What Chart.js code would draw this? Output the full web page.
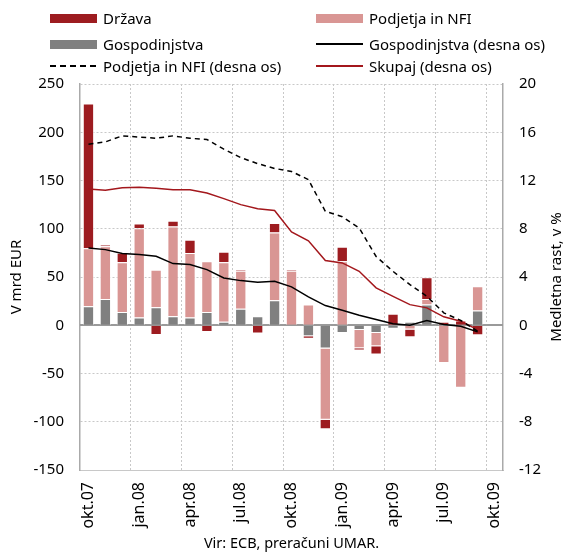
<!DOCTYPE html>
<html>
<head>
<meta charset="utf-8">
<script src="https://cdn.jsdelivr.net/npm/chart.js@4.4.0/dist/chart.umd.min.js"></script>
<style>
  body { margin: 0; background: #fff; }
  #wrap { position: relative; width: 571px; height: 553px; }
  #legend { position: absolute; left: 0; top: 0; width: 571px; height: 80px; font: 15px "Noto Sans", sans-serif; color: #000; }
  .item { position: absolute; display: flex; align-items: center; white-space: nowrap; height: 20px; }
  .sw { width: 47px; margin-right: 6px; }
</style>
</head>
<body>
<div id="wrap">
  <canvas id="c" width="571" height="553"></canvas>
  <div id="legend"></div>
</div>
<script>
const months = ['okt.07','nov.07','dec.07','jan.08','feb.08','mar.08','apr.08','maj.08','jun.08','jul.08','avg.08','sep.08',
                'okt.08','nov.08','dec.08','jan.09','feb.09','mar.09','apr.09','maj.09','jun.09','jul.09','avg.09','sep.09','okt.09'];

// mesečni tokovi, mrd EUR (leva os)
const drzava        = [150, 1.5, 10, 5, -10, 6, 13.5, -7, 11, 1, -8.5, 10, 1, -2.7, -9.7, 15, -2.4, -8.6, 11.5, -8, 22.4, 3, 5, -10.3, null];
const podjetja      = [60, 54.5, 51.4, 92.4, 39, 93, 67, 52.5, 61.7, 39.6, 0, 70, 56.6, 21.4, -74, 66.3, -18.8, -13.7, 0.5, -4.5, 5.9, -39, -64.8, 25.2, null];
const gospodinjstva = [19.7, 27.3, 13.8, 8, 18.6, 9.3, 8, 13.8, 3.5, 17, 9.3, 26, 0, -11.4, -24, -8, -5, -8, -3.7, 3.5, 21.4, 0.5, 0, 15.2, null];

// medletna rast, % (desna os)
const rastGosp    = [6.41, 6.27, 5.94, 5.86, 5.72, 5.11, 5.03, 4.61, 3.92, 3.7, 3.56, 3.64, 3.18, 2.35, 1.63, 1.24, 0.83, 0.47, 0.12, 0.0, 0.39, 0.06, -0.08, -0.55, null];
const rastPodj    = [15.0, 15.2, 15.7, 15.6, 15.5, 15.7, 15.5, 15.4, 14.6, 13.9, 13.4, 13.0, 12.75, 12.07, 9.44, 9.0, 8.07, 5.7, 4.47, 3.37, 2.4, 1.03, 0.4, -0.5, null];
const rastSkupaj  = [11.3, 11.2, 11.4, 11.45, 11.35, 11.24, 11.24, 10.96, 10.5, 10.0, 9.66, 9.52, 7.73, 7.0, 5.36, 5.17, 4.47, 3.1, 2.4, 1.71, 1.44, 0.7, 0.33, -0.36, null];

const FONT = '"Noto Sans", sans-serif';
const GRID = '#c8c8c8';

const zeroLine = {
  id: 'zeroLine',
  beforeDatasetsDraw(chart) {
    const { ctx, chartArea: a, scales: { y } } = chart;
    const py = Math.round(y.getPixelForValue(0));
    ctx.save();
    ctx.strokeStyle = '#9a9a9a';
    ctx.lineWidth = 2;
    ctx.beginPath();
    ctx.moveTo(a.left, py);
    ctx.lineTo(a.right, py);
    ctx.stroke();
    ctx.restore();
  }
};

const rightTitle = {
  id: 'rightTitle',
  afterDraw(chart) {
    const { ctx, chartArea: a } = chart;
    ctx.save();
    ctx.translate(557, (a.top + a.bottom) / 2);
    ctx.rotate(-Math.PI / 2);
    ctx.font = '15px ' + FONT;
    ctx.fillStyle = '#000';
    ctx.textAlign = 'center';
    ctx.textBaseline = 'middle';
    ctx.fillText('Medletna rast, v %', 0, 0);
    ctx.restore();
  }
};

const barBorder = 'rgba(255,255,255,0.7)';

const chart = new Chart(document.getElementById('c'), {
  type: 'bar',
  data: {
    labels: months,
    datasets: [
      { type: 'line', label: 'Gospodinjstva (desna os)', data: rastGosp, yAxisID: 'y2', borderColor: '#000', borderWidth: 1.5, pointRadius: 0, tension: 0, order: 0 },
      { type: 'line', label: 'Podjetja in NFI (desna os)', data: rastPodj, yAxisID: 'y2', borderColor: '#000', borderWidth: 1.5, borderDash: [5, 4], pointRadius: 0, tension: 0, order: 0 },
      { type: 'line', label: 'Skupaj (desna os)', data: rastSkupaj, yAxisID: 'y2', borderColor: '#a3171c', borderWidth: 1.5, pointRadius: 0, tension: 0, order: 0 },
      { label: 'Gospodinjstva', data: gospodinjstva, backgroundColor: '#808080', borderColor: barBorder, borderWidth: 1, stack: 's', order: 1 },
      { label: 'Podjetja in NFI', data: podjetja, backgroundColor: '#d99694', borderColor: barBorder, borderWidth: 1, stack: 's', order: 1 },
      { label: 'Država', data: drzava, backgroundColor: '#9d1c20', borderColor: barBorder, borderWidth: 1, stack: 's', order: 1 }
    ]
  },
  options: {
    responsive: false,
    animation: false,
    layout: { padding: { top: 84, left: 0, right: 0, bottom: 0 } },
    datasets: { bar: { barPercentage: 0.67, categoryPercentage: 1 } },
    plugins: { legend: { display: false }, tooltip: { enabled: false } },
    scales: {
      x: {
        stacked: true,
        afterFit(s) { s.height = 83; },
        grid: {
          offset: true,
          drawTicks: false,
          color: c => (c.index % 3 === 0 && c.index > 0) ? GRID : 'rgba(0,0,0,0)'
        },
        border: { color: GRID, dash: [2, 2] },
        ticks: {
          autoSkip: false, maxRotation: 90, minRotation: 90, padding: 12,
          color: '#000', font: { family: FONT, size: 16 },
          callback: (v, i) => i % 3 === 0 ? months[i] : ''
        },
        title: { display: true, text: 'Vir: ECB, preračuni UMAR.', color: '#000', font: { family: FONT, size: 14.5 }, padding: { top: 0, bottom: 0 } }
      },
      y: {
        stacked: true,
        position: 'left',
        min: -150, max: 250,
        afterFit(s) { s.width = 80; },
        grid: { drawTicks: false, color: GRID },
        border: { color: '#aaa', width: 1.5, dash: [2, 2] },
        ticks: { stepSize: 50, padding: 16, color: '#000', font: { family: FONT, size: 15 } },
        title: { display: true, text: 'V mrd EUR', color: '#000', font: { family: FONT, size: 15 }, padding: { top: 8, bottom: 0 } }
      },
      y2: {
        position: 'right',
        min: -12, max: 20,
        afterFit(s) { s.width = 68; },
        grid: { display: false, drawTicks: false },
        border: { color: '#aaa', width: 1.5 },
        ticks: { stepSize: 4, padding: 16, color: '#000', font: { family: FONT, size: 15 } }
      }
    }
  },
  plugins: [zeroLine, rightTitle]
});

// legenda v dveh stolpcih
const byLabel = l => chart.data.datasets.find(d => d.label === l);
const legendItems = [
  ['Država', 50, 18], ['Podjetja in NFI', 316, 18],
  ['Gospodinjstva', 50, 44], ['Gospodinjstva (desna os)', 316, 44],
  ['Podjetja in NFI (desna os)', 50, 66], ['Skupaj (desna os)', 316, 66]
];
const legendEl = document.getElementById('legend');
legendItems.forEach(([label, x, y]) => {
  const ds = byLabel(label);
  const item = document.createElement('div');
  item.className = 'item';
  item.style.left = x + 'px';
  item.style.top = (y - 10) + 'px';
  const sw = document.createElement('span');
  sw.className = 'sw';
  if (ds.type === 'line') {
    sw.style.height = '1.5px';
    sw.style.background = ds.borderDash
      ? 'repeating-linear-gradient(to right, ' + ds.borderColor + ' 0 6px, transparent 6px 10px)'
      : ds.borderColor;
  } else {
    sw.style.height = '9px';
    sw.style.background = ds.backgroundColor;
  }
  const tx = document.createElement('span');
  tx.textContent = label;
  item.appendChild(sw);
  item.appendChild(tx);
  legendEl.appendChild(item);
});
</script>
</body>
</html>
